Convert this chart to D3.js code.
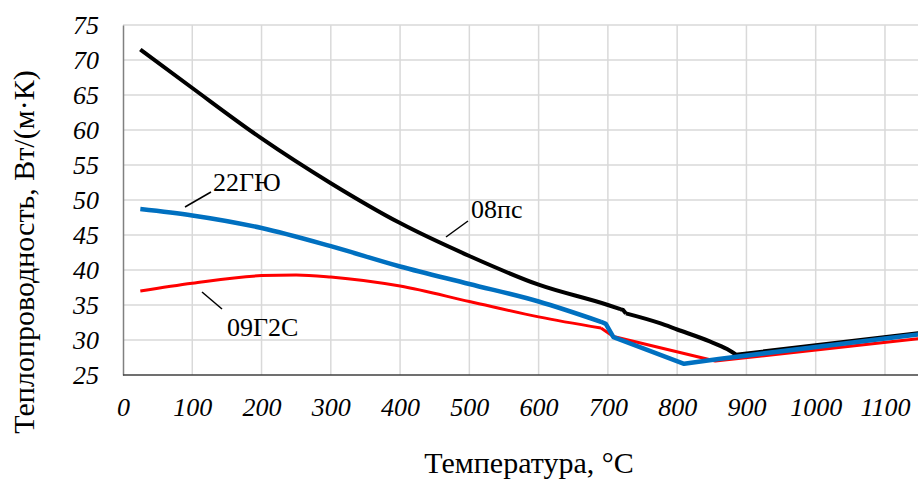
<!DOCTYPE html>
<html>
<head>
<meta charset="utf-8">
<script src="https://cdn.jsdelivr.net/npm/d3@7"></script>
<style>
  body { margin: 0; background: #fff; }
</style>
</head>
<body>
<div id="chart"></div>
<script>
// Temperature ticks and values
const xTicks = [0, 100, 200, 300, 400, 500, 600, 700, 800, 900, 1000, 1100];
const yTicks = [25, 30, 35, 40, 45, 50, 55, 60, 65, 70, 75];

// 08пс
const steel08ps = [
  [25, 71.5], [100, 66.0], [200, 58.8], [300, 52.4], [400, 46.7], [500, 42.0],
  [600, 37.9], [700, 35.0], [718, 34.4], [722, 34.3], [726, 33.8], [775, 32.4],
  [800, 31.5], [847, 29.8], [872, 28.7], [885, 27.9], [1150, 31.0]
];
// 22ГЮ
const steel22GYu = [
  [25, 48.7], [100, 47.8], [200, 46.0], [300, 43.4], [400, 40.5], [500, 38.0],
  [600, 35.5], [690, 32.6], [697, 32.3], [708, 30.4], [810, 26.6], [860, 27.3],
  [1150, 30.8]
];
// 09Г2С
const steel09G2S = [
  [25, 37.0], [100, 38.1], [200, 39.2], [250, 39.3], [300, 39.0], [400, 37.7],
  [500, 35.5], [600, 33.3], [690, 31.7], [708, 30.5], [855, 27.0], [1150, 30.2]
];

const FONT = "Liberation Serif";
const W = 918, H = 479;
const margin = {top: 25, right: 0, bottom: 104, left: 123};
const plotBottom = H - margin.bottom;

const svg = d3.select("#chart").append("svg")
  .attr("width", W)
  .attr("height", H)
  .style("font-family", FONT);

const x = d3.scaleLinear()
  .domain([0, 1150])
  .range([margin.left, margin.left + 1150 * 0.6927]);

const y = d3.scaleLinear()
  .domain([25, 75])
  .range([plotBottom, margin.top]);

svg.append("defs").append("clipPath")
  .attr("id", "plot")
  .append("rect")
  .attr("x", margin.left)
  .attr("y", margin.top - 5)
  .attr("width", W - margin.left)
  .attr("height", plotBottom - margin.top + 10);

// Gridlines
svg.append("g")
  .selectAll("line")
  .data(yTicks.slice(1))
  .enter()
  .append("line")
  .attr("x1", margin.left)
  .attr("x2", W)
  .attr("y1", d => y(d))
  .attr("y2", d => y(d))
  .attr("stroke", "#d9d9d9")
  .attr("stroke-width", 1.5);

svg.append("g")
  .selectAll("line")
  .data(xTicks.slice(1))
  .enter()
  .append("line")
  .attr("x1", d => x(d))
  .attr("x2", d => x(d))
  .attr("y1", margin.top)
  .attr("y2", plotBottom)
  .attr("stroke", "#d9d9d9")
  .attr("stroke-width", 1.5);

// Axes
const yAxis = svg.append("g")
  .attr("transform", `translate(${margin.left},0)`)
  .call(d3.axisLeft(y).tickValues(yTicks).tickSize(0).tickPadding(24));
yAxis.attr("font-family", null);
yAxis.select(".domain").attr("stroke", "#808080").attr("stroke-width", 1.5);
yAxis.selectAll("text")
  .style("font-family", FONT)
  .style("font-style", "italic")
  .style("font-size", "26px")
  .attr("fill", "#000");

const xAxis = svg.append("g")
  .attr("transform", `translate(0,${plotBottom})`)
  .call(d3.axisBottom(x).tickValues(xTicks).tickFormat(d3.format("d")).tickSize(0).tickPadding(23));
xAxis.attr("font-family", null);
xAxis.select(".domain").remove();
xAxis.selectAll("text")
  .style("font-family", FONT)
  .style("font-style", "italic")
  .style("font-size", "26px")
  .attr("fill", "#000");

svg.append("line")
  .attr("x1", margin.left)
  .attr("x2", W)
  .attr("y1", plotBottom)
  .attr("y2", plotBottom)
  .attr("stroke", "#404040")
  .attr("stroke-width", 1.5);

// Lines: smooth parts and straight parts, split at the listed index
const smooth = d3.line()
  .x(d => x(d[0]))
  .y(d => y(d[1]))
  .curve(d3.curveMonotoneX);
const straight = d3.line()
  .x(d => x(d[0]))
  .y(d => y(d[1]));

const series = [
  {data: steel08ps, color: "#000000", width: 4,
   parts: [[0, 8, "s"], [8, 10, "l"], [10, 15, "s"], [15, 16, "l"]]},
  {data: steel09G2S, color: "#ff0000", width: 3,
   parts: [[0, 8, "s"], [8, 11, "l"]]},
  {data: steel22GYu, color: "#0070c0", width: 4.5,
   parts: [[0, 7, "s"], [7, 12, "l"]]}
];

const lines = svg.append("g").attr("clip-path", "url(#plot)");
series.forEach(s => {
  const d = s.parts.map(p => {
    const pts = s.data.slice(p[0], p[1] + 1);
    return p[2] === "s" ? smooth(pts) : straight(pts);
  }).join("");
  lines.append("path")
    .attr("d", d)
    .attr("fill", "none")
    .attr("stroke", s.color)
    .attr("stroke-width", s.width)
    .attr("stroke-linejoin", "round");
});

// Labels with leader lines
const labels = [
  {text: "22ГЮ", tx: 213, ty: 191, lx1: 185, ly1: 207, lx2: 211, ly2: 192},
  {text: "08пс", tx: 471, ty: 218, lx1: 446, ly1: 237, lx2: 468, ly2: 221},
  {text: "09Г2С", tx: 227, ty: 336, lx1: 202, ly1: 292, lx2: 222, ly2: 309}
];

labels.forEach(l => {
  svg.append("line")
    .attr("x1", l.lx1).attr("y1", l.ly1)
    .attr("x2", l.lx2).attr("y2", l.ly2)
    .attr("stroke", "#000")
    .attr("stroke-width", 1.5);
  svg.append("text")
    .attr("x", l.tx)
    .attr("y", l.ty)
    .style("font-family", FONT)
    .style("font-size", "26px")
    .text(l.text);
});

// Axis titles
svg.append("text")
  .attr("x", 529)
  .attr("y", 473)
  .attr("text-anchor", "middle")
  .style("font-family", FONT)
  .style("font-size", "30px")
  .text("Температура, °С");

svg.append("text")
  .attr("transform", "translate(34,252) rotate(-90)")
  .attr("text-anchor", "middle")
  .style("font-family", FONT)
  .style("font-size", "30px")
  .text("Теплопроводность, Вт/(м·К)");
</script>
</body>
</html>
